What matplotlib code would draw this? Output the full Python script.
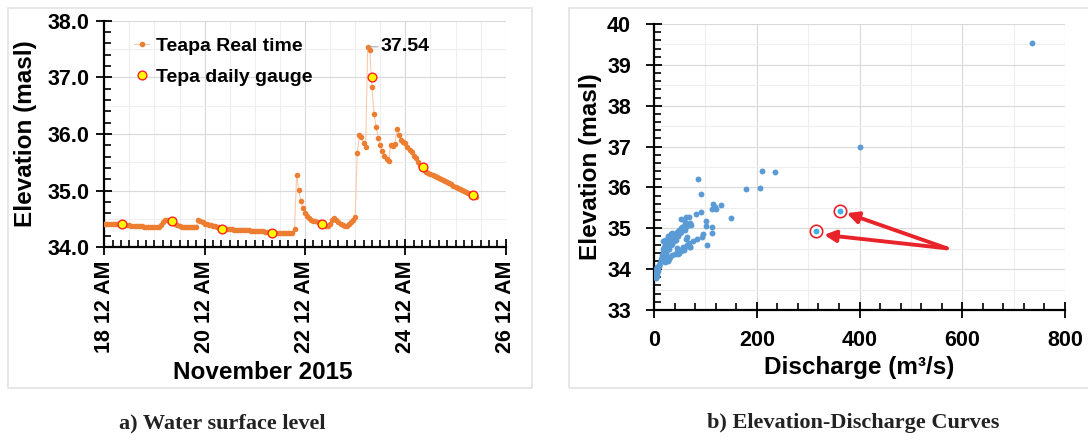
import numpy as np
import pandas as pd
import matplotlib
matplotlib.use('Agg')
import matplotlib.pyplot as plt
import matplotlib.dates as mdates
from matplotlib.patches import Rectangle
from matplotlib.ticker import MultipleLocator

plt.rcParams['font.family'] = ['Liberation Sans', 'DejaVu Sans']
plt.rcParams['font.weight'] = 'bold'

# hourly water level, Teapa real time (masl), starting 18 Nov 2015 00:00
nov18 = [34.42, 34.42, 34.42, 34.42, 34.41, 34.41, 34.41, 34.41, 34.41, 34.40, 34.40, 34.39,
         34.39, 34.38, 34.38, 34.38, 34.37, 34.37, 34.37, 34.36, 34.36, 34.36, 34.36, 34.36]
nov19 = [34.35, 34.35, 34.36, 34.40, 34.45, 34.49, 34.48, 34.47, 34.46, 34.44, 34.42, 34.40,
         34.38, 34.36, 34.35, 34.35, 34.35, 34.35, 34.35, 34.35, 34.36, 34.49, 34.46, 34.44]
nov20 = [34.42, 34.41, 34.40, 34.39, 34.38, 34.37, 34.36, 34.35, 34.34, 34.33, 34.33, 34.32,
         34.32, 34.32, 34.31, 34.31, 34.31, 34.31, 34.30, 34.30, 34.30, 34.30, 34.29, 34.29]
nov21 = [34.29, 34.28, 34.28, 34.28, 34.28, 34.27, 34.27, 34.27, 34.26, 34.26, 34.26, 34.26,
         34.25, 34.25, 34.25, 34.25, 34.25, 34.25, 34.25, 34.33, 35.28, 35.01, 34.82, 34.70]
nov22 = [34.60, 34.55, 34.52, 34.49, 34.47, 34.46, 34.45, 34.44, 34.42, 34.40, 34.38, 34.37,
         34.42, 34.48, 34.51, 34.48, 34.45, 34.42, 34.40, 34.38, 34.37, 34.41, 34.45, 34.48]
nov23 = [34.54, 35.66, 35.98, 35.95, 35.84, 35.77, 37.54, 37.48, 36.83, 36.36, 36.12, 35.93,
         35.81, 35.70, 35.62, 35.56, 35.53, 35.80, 35.79, 35.83, 36.09, 35.99, 35.89, 35.86]
nov24 = [35.84, 35.77, 35.72, 35.69, 35.62, 35.57, 35.50, 35.45, 35.40, 35.36, 35.33, 35.31,
         35.29, 35.28, 35.26, 35.24, 35.22, 35.20, 35.19, 35.17, 35.15, 35.13, 35.11, 35.08]
nov25 = [35.07, 35.05, 35.03, 35.01, 34.99, 34.97, 34.95, 34.94, 34.92, 34.90, 34.88]
real_time = nov18 + nov19 + nov20 + nov21 + nov22 + nov23 + nov24 + nov25

# daily gauge readings (one per morning)
gauge = [34.41, 34.46, 34.32, 34.26, 34.42, 37.00, 35.42, 34.92]
peak_label = '37.54'

# elevation-discharge pairs
discharge = [3, 3, 4, 4, 5, 5, 6, 6, 7, 8, 5, 7, 9, 10, 3, 4, 2, 6,
             12, 13, 14, 15, 16, 17, 18, 18, 19, 20, 20, 21, 22, 22, 23, 24, 25, 25,
             26, 27, 28, 28, 29, 30, 30, 31, 32, 33, 34, 35, 36, 37, 38, 40, 41, 42,
             44, 45, 46, 48, 50, 52, 53, 55, 57, 58, 60, 62, 64,
             18, 22, 28, 33, 36, 15, 19, 24, 27, 31,
             20, 22, 25, 28, 30, 32, 35, 40, 45, 48, 52, 55, 58, 60, 65, 68, 70, 75, 44, 47, 56,
             52, 60, 63, 65, 68, 70, 72, 82, 91, 86, 91, 114, 112, 116, 120, 118, 130, 149,
             102, 101, 112, 112, 95, 94, 83, 104, 70, 65, 63,
             180, 206, 210, 236, 400, 735]
elevation = [33.78, 33.82, 33.85, 33.88, 33.90, 33.93, 33.96, 34.00, 34.02, 34.05, 33.83, 33.95, 34.08, 34.10, 33.90, 34.00, 33.80, 34.06,
             34.15, 34.25, 34.20, 34.30, 34.35, 34.28, 34.40, 34.50, 34.45, 34.55, 34.35, 34.60, 34.50, 34.68, 34.40, 34.62, 34.70, 34.55,
             34.48, 34.65, 34.72, 34.30, 34.60, 34.75, 34.50, 34.80, 34.68, 34.58, 34.85, 34.73, 34.62, 34.80, 34.70, 34.78, 34.85, 34.72,
             34.80, 34.90, 34.82, 34.95, 34.88, 35.00, 34.92, 35.02, 34.98, 35.05, 34.95, 35.05, 35.10,
             34.70, 34.72, 34.82, 34.87, 34.88, 34.22, 34.32, 34.45, 34.52, 34.64,
             34.20, 34.18, 34.22, 34.20, 34.25, 34.30, 34.35, 34.38, 34.42, 34.40, 34.45, 34.50, 34.47, 34.55, 34.60, 34.65, 34.55, 34.70, 34.51, 34.37, 34.55,
             35.22, 35.15, 35.28, 35.05, 35.27, 35.12, 35.08, 35.35, 35.39, 36.20, 35.85, 35.59, 35.46, 35.49, 35.46, 35.52, 35.57, 35.26,
             35.18, 35.06, 35.02, 34.88, 34.85, 34.78, 34.74, 34.58, 34.55, 34.79, 34.74,
             35.95, 35.98, 36.41, 36.38, 37.00, 39.54]
flagged_q = [315, 362]
flagged_h = [34.93, 35.43]
arrow_tail = (570, 34.51)
arrow_tips = [(375, 35.37), (331, 34.84)]

orange = '#ED7D31'
blue = '#5B9BD5'
grid_major = '#D9D9D9'
grid_minor = '#EEEEEE'

fig = plt.figure(figsize=(10.88, 4.4), dpi=100)

# panel frames
for x0, x1 in [(8, 532), (569, 1095)]:
    fig.patches.append(Rectangle((x0 / 1088, 1 - 388 / 440), (x1 - x0) / 1088, 380 / 440,
                                 transform=fig.transFigure, fill=False,
                                 edgecolor='#E3E3E3', lw=1.2, zorder=0))


def style_axes(ax):
    for s in ['top', 'right']:
        ax.spines[s].set_visible(False)
    for s in ['left', 'bottom']:
        ax.spines[s].set_linewidth(1.6)
        ax.spines[s].set_color('black')
    ax.tick_params(which='major', direction='inout', length=11, width=1.3, labelsize=15.5)
    ax.tick_params(which='minor', direction='in', length=5, width=1.2)
    for lab in ax.get_xticklabels() + ax.get_yticklabels():
        lab.set_fontweight('bold')


# ---- a) water surface level
ax1 = fig.add_axes([104.3 / 1088, 1 - 247.3 / 440, 401.4 / 1088, 226.6 / 440])
times = pd.date_range('2015-11-18 00:00', periods=len(real_time), freq='h')
gauge_times = pd.date_range('2015-11-18 08:15', periods=len(gauge), freq='D')
start, end = pd.Timestamp('2015-11-18'), pd.Timestamp('2015-11-26')

for t in pd.date_range(start, end, freq='12h'):
    ax1.axvline(t, color=grid_major if t.hour == 0 and t.day % 2 == 0 else grid_minor, lw=0.8, zorder=0)
for v in np.arange(34, 38.01, 0.5):
    ax1.axhline(v, color=grid_major if v % 1 == 0 else grid_minor, lw=0.8, zorder=0)

ax1.plot(times, real_time, '-', color='#F8CBAD', lw=0.8, zorder=2)
ax1.plot(times, real_time, 'o', color=orange, ms=4, mew=0, zorder=3)
ax1.plot(gauge_times, gauge, 'o', mfc='#FFFF00', mec='#FF2020', ms=6.3, mew=1.0, zorder=4)

# legend handles
h_rt, = ax1.plot([], [], '-o', color='#F8CBAD', ms=4, mew=0, lw=0.8, mfc=orange)
h_g, = ax1.plot([], [], 'o', mfc='#FFFF00', mec='#FF2020', ms=6.3, mew=1.0)
ax1.legend([h_rt, h_g], ['Teapa Real time', 'Tepa daily gauge'], loc='upper left',
           bbox_to_anchor=(0.03, 1.005), frameon=False, handlelength=0.8,
           handletextpad=0.35, labelspacing=0.72, prop={'size': 14, 'weight': 'bold'})

peak_i = int(np.argmax(real_time))
ax1.annotate(peak_label, xy=(times[peak_i + 1], real_time[peak_i]), xytext=(8, 0),
             textcoords='offset points', va='center', ha='left', fontsize=14, fontweight='bold',
             arrowprops=dict(arrowstyle='-', color='#A6A6A6', lw=0.8, shrinkA=0, shrinkB=0))

ax1.set_xlim(start, end)
ax1.set_ylim(34, 38)
ax1.xaxis.set_major_locator(mdates.DayLocator(interval=2))
ax1.xaxis.set_minor_locator(mdates.HourLocator(byhour=range(0, 24, 4)))
ax1.xaxis.set_major_formatter(mdates.DateFormatter('%d %I %p'))
ax1.yaxis.set_major_locator(MultipleLocator(1))
ax1.yaxis.set_minor_locator(MultipleLocator(0.2))
ax1.yaxis.set_major_formatter(matplotlib.ticker.FormatStrFormatter('%.1f'))
style_axes(ax1)
ax1.tick_params(axis='x', rotation=90, pad=4)
ax1.tick_params(axis='y', pad=5)
fig.text(26 / 1088, 1 - 134 / 440, 'Elevation (masl)', rotation=90, ha='center', va='center',
         fontsize=17.5, fontweight='bold')
fig.text(263 / 1088, 1 - 372 / 440, 'November 2015', ha='center', va='center',
         fontsize=17.5, fontweight='bold')

# ---- b) elevation-discharge
ax2 = fig.add_axes([654 / 1088, 1 - 310 / 440, 411 / 1088, 286 / 440])
for v in np.arange(0, 801, 100):
    ax2.axvline(v, color=grid_major if v % 200 == 0 else grid_minor, lw=0.8, zorder=0)
for v in np.arange(33, 40.01, 0.5):
    ax2.axhline(v, color=grid_major if v % 1 == 0 else grid_minor, lw=0.8, zorder=0)

ax2.scatter(discharge, elevation, s=18, color=blue, lw=0, zorder=3)
ax2.scatter(flagged_q, flagged_h, s=80, facecolors='white', edgecolors='#E8232A', lw=1.2, zorder=4)
ax2.scatter(flagged_q, flagged_h, s=18, color='#3DB4E8', lw=0, zorder=5)
for tip in arrow_tips:
    ax2.annotate('', xy=tip, xytext=arrow_tail,
                 arrowprops=dict(arrowstyle='-|>', color='#E8232A', lw=2.8,
                                 mutation_scale=17, shrinkA=0, shrinkB=0))

ax2.set_xlim(0, 800)
ax2.set_ylim(33, 40)
ax2.xaxis.set_major_locator(MultipleLocator(200))
ax2.xaxis.set_minor_locator(MultipleLocator(40))
ax2.yaxis.set_major_locator(MultipleLocator(1))
ax2.yaxis.set_minor_locator(MultipleLocator(0.2))
style_axes(ax2)
ax2.tick_params(axis='x', pad=9)
ax2.tick_params(axis='y', pad=11)
fig.text(590 / 1088, 1 - 167 / 440, 'Elevation (masl)', rotation=90, ha='center', va='center',
         fontsize=17.5, fontweight='bold')
fig.text(859 / 1088, 1 - 367 / 440, 'Discharge (m³/s)', ha='center', va='center',
         fontsize=17.5, fontweight='bold')

# captions
cap = dict(ha='center', va='center', fontsize=16, fontweight='bold', family='Liberation Serif',
           color='#222222')
fig.text(222 / 1088, 1 - 423 / 440, 'a) Water surface level', **cap)
fig.text(853 / 1088, 1 - 423 / 440, 'b) Elevation-Discharge Curves', **cap)

fig.savefig('out.png', dpi=100)
